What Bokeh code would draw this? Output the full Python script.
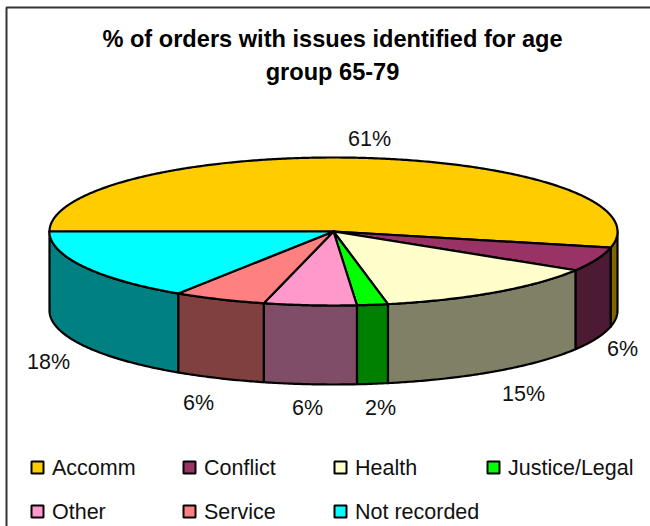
import numpy as np
from bokeh.core.properties import value
from bokeh.embed import file_html
from bokeh.models import Range1d
from bokeh.plotting import figure
from bokeh.resources import INLINE

# Share of orders per issue; an order can carry several issues, so slices are
# sized against the sum of the values rather than against 100.
categories = ["Accomm", "Conflict", "Health", "Justice/Legal", "Other", "Service", "Not recorded"]
percent = [61, 6, 15, 2, 6, 6, 18]
top_colors = ["#FFCC00", "#993366", "#FFFFCC", "#00FF00", "#FF99CC", "#FF8080", "#00FFFF"]
side_colors = ["#806600", "#4D1A33", "#808066", "#008000", "#804D66", "#804040", "#008080"]
title_lines = ["% of orders with issues identified for age", "group 65-79"]

W, H = 650, 526
CX, CY, RX, RY, DEPTH = 333, 231, 284, 74, 79
FONT = "Liberation Sans"

p = figure(width=W, height=H, output_backend="svg", toolbar_location=None,
           x_range=Range1d(0, W), y_range=Range1d(H, 0),
           x_axis_type=None, y_axis_type=None, min_border=0,
           background_fill_color="white", border_fill_color="white",
           outline_line_color=None)
p.grid.visible = False

# Chart frame: only the top and left edges fall inside the page.
p.line([6, 6, W], [H, 7, 7], line_color="#333333", line_width=2)


def rim(t0, t1, dy=0.0):
    t = np.radians(np.linspace(t0, t1, max(int(abs(t1 - t0) * 2), 2)))
    return CX + RX * np.cos(t), CY + RY * np.sin(t) + dy


# Slice boundaries, clockwise from the left-hand edge of the disc.
sweep = 360 * np.array(percent, dtype=float) / sum(percent)
ends = 180 + np.cumsum(sweep)
starts = ends - sweep

# Outer wall: only the part of each slice on the near half of the disc shows.
for a, b, col in zip(starts, ends, side_colors):
    lo, hi = max(a, 360), min(b, 540)
    if hi <= lo:
        continue
    xt, yt = rim(lo, hi)
    xb, yb = rim(hi, lo, DEPTH)
    p.patch(np.r_[xt, xb], np.r_[yt, yb], fill_color=col, line_color="black",
            line_width=2.2, line_join="round")

# Top faces of the slices.
for a, b, col in zip(starts, ends, top_colors):
    xa, ya = rim(a, b)
    p.patch(np.r_[CX, xa], np.r_[CY, ya], fill_color=col, line_color="black",
            line_width=2.2, line_join="round")

# Percentage labels next to their slices.
label_x = [369, 622, 523, 380, 307, 198, 48]
label_y = [138, 348, 393, 407, 407, 402, 361]
p.text(label_x, label_y, text=[f"{v}%" for v in percent], text_font=value(FONT),
       text_font_size="21.5px", text_color="#111111", text_align="center",
       text_baseline="middle")

# Two-line heading.
p.text([332, 332], [38, 71], text=title_lines, text_font=value(FONT),
       text_font_size="23.6px", text_font_style="bold", text_color="black",
       text_align="center", text_baseline="middle")

# Legend in two rows of up to four entries.
swatch_x = [37, 189, 340, 493, 37, 189, 340]
swatch_y = [467, 467, 467, 467, 511, 511, 511]
p.rect(swatch_x, swatch_y, width=12, height=12, fill_color=top_colors,
       line_color="black", line_width=2)
p.text([x + 14.5 for x in swatch_x], swatch_y, text=categories, text_font=value(FONT),
       text_font_size="21.5px", text_color="#111111", text_align="left",
       text_baseline="middle")

open("out.html", "w").write(file_html(p, INLINE))
